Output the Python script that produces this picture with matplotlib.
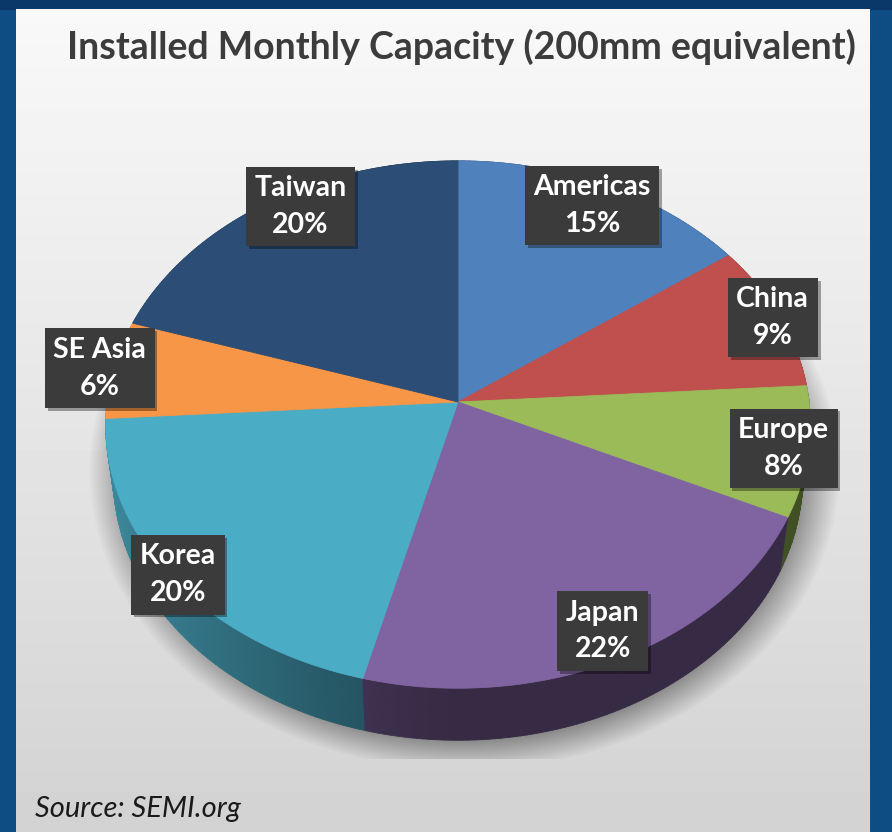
import numpy as np
import matplotlib.pyplot as plt
from matplotlib.patches import Polygon, Rectangle
from matplotlib.collections import PolyCollection
from matplotlib.colors import to_rgb
import matplotlib.patheffects as pe

# === Dados ===
regions = ["Americas", "China", "Europe", "Japan", "Korea", "SE Asia", "Taiwan"]
shares = [15, 9, 8, 22, 20, 6, 20]
colors = ["#4f81bd", "#c0504d", "#9bbb59", "#8064a2", "#4bacc6", "#f79646", "#2c4d75"]
title = "Installed Monthly Capacity (200mm equivalent)"
source = "Source: SEMI.org"

# posição relativa de cada rótulo (layout): raio e desvio angular em graus
label_r = [0.9, 0.98, 0.93, 0.9, 0.98, 1.04, 0.93]
label_shift = [0, 0, 0, 0, 0, 0, 5]

W, Hpx = 892, 832
fig = plt.figure(figsize=(W / 100, Hpx / 100), dpi=100, facecolor="#0e4c84")
ax = fig.add_axes([0, 0, 1, 1])
ax.set_xlim(0, W)
ax.set_ylim(Hpx, 0)
ax.axis("off")

# === Fundo: barra azul + painel em degradê ===
ax.add_patch(Rectangle((0, 0), W, 9, color="#0a3868", zorder=0))
grad = np.linspace(0.975, 0.825, 200)[:, None] * np.ones((1, 50))
ax.imshow(grad, cmap="gray", vmin=0, vmax=1, extent=[16, 870, Hpx, 9],
          aspect="auto", zorder=1, interpolation="bilinear")

# === Projeção em perspectiva do disco ===
cx, cy = 458, 402
f, D = 2735.0, 7.79
tilt = np.radians(48.2)
thick = 0.236


def proj(theta, r=1.0, z=0.0):
    X = r * np.sin(theta)
    Y = r * np.cos(theta)
    d = D + Y * np.cos(tilt) - z * np.sin(tilt)
    u = Y * np.sin(tilt) + z * np.cos(tilt)
    return cx + f * X / d, cy - f * u / d


# === Sombra suave embaixo da pizza ===
yy, xx = np.mgrid[0:Hpx, 0:W]
rn = np.sqrt(((xx - 464) / 376.0) ** 2 + ((yy - 470) / 300.0) ** 2)
alpha = 0.36 * np.clip((1.0 - rn) / 0.1, 0, 1)
alpha[yy > 758] = 0
alpha[xx < 16] = 0
alpha[xx > 869] = 0
shadow = np.zeros((Hpx, W, 4))
shadow[..., 3] = alpha
ax.imshow(shadow, extent=[0, W, Hpx, 0], zorder=2, interpolation="bilinear")

# === Ângulos das fatias (sentido horário a partir do topo) ===
total = float(sum(shares))
edges = np.concatenate([[0], np.cumsum(shares)]) / total * 2 * np.pi

# paredes laterais, em segmentos pequenos com sombreamento
segs, segcols, depth = [], [], []
for i in range(len(shares)):
    a0, a1 = edges[i], edges[i + 1]
    n = max(int(np.degrees(a1 - a0)), 2)
    ts = np.linspace(a0, a1, n + 1)
    base = np.array(to_rgb(colors[i]))
    for t0, t1 in zip(ts[:-1], ts[1:]):
        tt = np.linspace(t0, t1, 3)
        xt, yt = proj(tt)
        xb, yb = proj(tt[::-1], z=-thick)
        poly = np.column_stack([np.concatenate([xt, xb]), np.concatenate([yt, yb])])
        tm = 0.5 * (t0 + t1)
        k = 0.42 + 0.38 * max(0.0, -np.sin(tm)) ** 1.2
        segs.append(poly)
        segcols.append(np.clip(base * k, 0, 1))
        depth.append(np.cos(tm))

order = np.argsort(depth)[::-1]
walls = PolyCollection([segs[j] for j in order],
                       facecolors=[segcols[j] for j in order],
                       edgecolors=[segcols[j] for j in order],
                       linewidths=0.6, zorder=3)
ax.add_collection(walls)

# faces de cima
for i in range(len(shares)):
    ts = np.linspace(edges[i], edges[i + 1], 200)
    xs, ys = proj(ts)
    pts = np.column_stack([np.concatenate([[cx], xs]), np.concatenate([[cy], ys])])
    ax.add_patch(Polygon(pts, closed=True, fc=colors[i], ec=colors[i], lw=0.6, zorder=4))

# === Rótulos ===
for i, (name, val) in enumerate(zip(regions, shares)):
    mid = 0.5 * (edges[i] + edges[i + 1]) + np.radians(label_shift[i])
    lx, ly = proj(mid, r=label_r[i])
    t = ax.text(lx, ly, f"{name}\n{val}%", ha="center", va="center",
                fontsize=20.5, fontweight="bold", color="white", family="Lato",
                linespacing=1.5, zorder=6,
                bbox=dict(boxstyle="square,pad=0.3", fc="#3b3b3b", ec="none"))
    t.get_bbox_patch().set_path_effects([
        pe.SimplePatchShadow(offset=(2, -2), shadow_rgbFace="black", alpha=0.35),
        pe.Normal()])

# === Título e fonte ===
ax.text(461, 47, title, ha="center", va="center", fontsize=27,
        fontweight="bold", color="#3c3c3c", family="Lato", zorder=6)
ax.text(35, 809, source, ha="left", va="center", fontsize=21,
        style="italic", color="#1a1a1a", family="Lato", zorder=6)

fig.savefig("out.png", dpi=100, facecolor=fig.get_facecolor())
